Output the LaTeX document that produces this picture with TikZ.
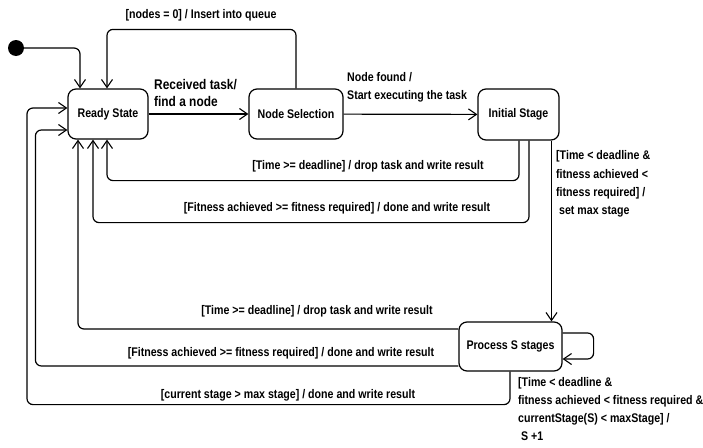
\documentclass[tikz,border=0pt]{standalone}
\usepackage{fontspec}
\setmainfont{Liberation Sans}[FakeStretch=0.85]
\usetikzlibrary{arrows.meta}
\begin{document}
\begin{tikzpicture}[x=1pt,y=-1pt,
  state/.style={draw,line width=1.2pt,rounded corners=8pt,align=center,inner sep=0pt,font=\fontsize{12.5}{14}\selectfont\bfseries},
  arr/.style={draw,line width=1.2pt,rounded corners=6pt,-{Straight Barb[length=8pt,width=11pt,line width=1.1pt]}},
  lbl/.style={inner sep=0pt,font=\fontsize{12.5}{18.3}\selectfont\bfseries},
  lblbig/.style={inner sep=0pt,align=left,font=\fontsize{14}{17}\selectfont\bfseries}]
\useasboundingbox[fill=white] (0,0) rectangle (703,447);
\node[state,minimum width=80pt,minimum height=50pt] (ready) at (108,114) {Ready State};
\node[state,minimum width=94pt,minimum height=50pt] (nodesel) at (296,114) {Node Selection};
\node[state,minimum width=81pt,minimum height=51pt] (initial) at (518.5,114.5) {Initial Stage};
\node[state,minimum width=103pt,minimum height=49pt] (process) at (510.5,346.5) {Process S stages};
\node[circle,fill=black,minimum size=16pt,inner sep=0pt] (start) at (16,48) {};
% connectors
\draw[arr] (start) -| ([xshift=-28pt]ready.north);
\draw[arr] (nodesel.north) -- ++(0,-59) -| ([xshift=-1pt]ready.north);
\draw[arr,rounded corners=0pt] (ready) -- (nodesel);
\draw[arr,rounded corners=0pt] (nodesel) -- (initial);
\draw[arr] ([xshift=0.5pt]initial.south) -- ++(0,40) -| ([xshift=-1pt]ready.south);
\draw[arr] ([xshift=10.5pt]initial.south) -- ++(0,82) -| ([xshift=-15pt]ready.south);
\draw[arr] ([xshift=33pt]initial.south) -- ([xshift=33pt]initial.south |- process.north);
\draw[arr] ([yshift=17.5pt]process.west) -| ([xshift=-30pt]ready.south);
\draw[arr] ([yshift=-19.5pt]process.west) -- ++(-423,0) |- ([yshift=-16pt]ready.west);
\draw[arr] ([xshift=-0.5pt]process.south) |- ++(-483,33) |- ([yshift=6pt]ready.west);
\draw[arr] ([yshift=13.5pt]process.east) -- ++(31,0) |- ([yshift=-12.5pt]process.east);
% labels
\node[lbl] (l1) at (201,15) {[nodes = 0] / Insert into queue};
\node[lblbig,anchor=west] (l2) at (154,93) {Received task/\\find a node};
\node[lbl,align=left,anchor=west] (l3) at (347,87) {Node found /\\Start executing the task};
\node[lbl] (l4) at (368,166) {[Time >= deadline] / drop task and write result};
\node[lbl] (l5) at (337,208) {[Fitness achieved >= fitness required] / done and write result};
\node[lbl,align=left,anchor=west] (l6) at (556,184) {[Time < deadline \&\\fitness achieved <\\fitness required] /\\\ set max stage};
\node[lbl] (l7) at (317,311) {[Time >= deadline] / drop task and write result};
\node[lbl] (l8) at (281,353) {[Fitness achieved >= fitness required] / done and write result};
\node[lbl] (l9) at (288,395) {[current stage > max stage] / done and write result};
\node[lbl,align=left,anchor=west] (l10) at (518,409) {[Time < deadline \&\\fitness achieved < fitness required \&\\currentStage(S) < maxStage] /\\\ S +1};
\end{tikzpicture}
\end{document}
